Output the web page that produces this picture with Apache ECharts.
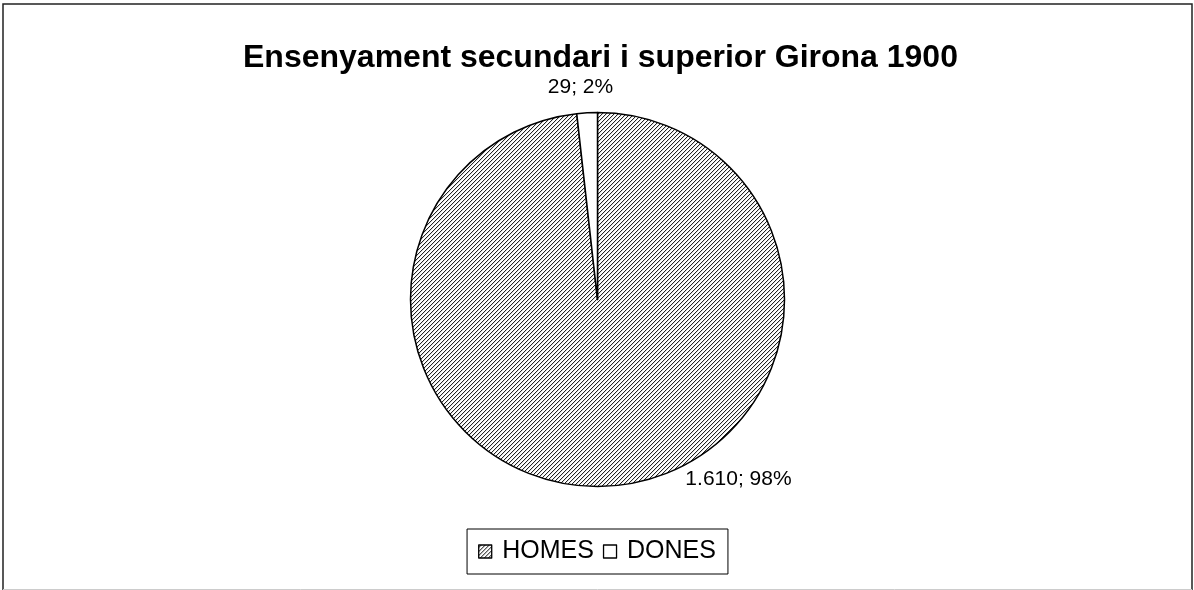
<!DOCTYPE html>
<html>
<head>
<meta charset="utf-8">
<title>Ensenyament secundari i superior Girona 1900</title>
<script src="https://cdn.jsdelivr.net/npm/echarts@6/dist/echarts.min.js"></script>
<style>
  html, body { margin: 0; padding: 0; background: #fff; }
  #chart { width: 1194px; height: 590px; }
</style>
</head>
<body>
<div id="chart"></div>
<script>
// dades
const categories = ["HOMES", "DONES"];
const values = [1610, 29];
const titleText = "Ensenyament secundari i superior Girona 1900";

// trama de ratlles diagonals per a HOMES
const makeHatch = () => {
  const c = document.createElement("canvas");
  c.width = 4;
  c.height = 4;
  const ctx = c.getContext("2d");
  ctx.fillStyle = "#fff";
  ctx.fillRect(0, 0, 4, 4);
  ctx.fillStyle = "#222";
  for (let i = 0; i < 4; i++) {
    ctx.fillRect(3 - i, i, 1, 1);
  }
  ctx.fillStyle = "#ddd";
  for (let i = 0; i < 4; i++) {
    ctx.fillRect((4 - i) % 4, i, 1, 1);
  }
  return c;
};

const fills = [{ image: makeHatch(), repeat: "repeat" }, "#fff"];

// format català: 1.610
const fmtNum = (n) => String(n).replace(/\B(?=(\d{3})+(?!\d))/g, ".");

const pieCx = 597.5;
const pieCy = 299.5;
const pieR = 187;
// posició de les etiquetes respecte del centre del pastís
const labelOffsets = [[141, 180], [-17, -212]];

const chart = echarts.init(document.getElementById("chart"));

const option = {
  animation: false,
  textStyle: { fontFamily: "Liberation Sans, Arial, sans-serif", color: "#000" },
  title: {
    text: titleText,
    left: 243,
    top: 42,
    padding: 0,
    textStyle: {
      fontSize: 32,
      fontWeight: "bold",
      color: "#000",
      fontFamily: "Liberation Sans, Arial, sans-serif",
    },
  },
  legend: {
    data: categories,
    bottom: 16,
    left: "center",
    orient: "horizontal",
    icon: "path://M0,0L10,0L10,10L0,10Z",
    itemWidth: 24,
    itemHeight: 13,
    itemGap: 9,
    padding: [10, 12, 10, 11],
    borderColor: "#000",
    borderWidth: 1,
    textStyle: { fontSize: 25, color: "#000", fontFamily: "Liberation Sans, Arial, sans-serif" },
    itemStyle: { borderColor: "#000", borderWidth: 1.3 },
  },
  graphic: [
    {
      type: "polyline",
      shape: { points: [[3, 590], [3, 4], [1192, 4], [1192, 590]] },
      style: { fill: "none", stroke: "#222", lineWidth: 1.5 },
      silent: true,
    },
    {
      type: "line",
      shape: { x1: 3, y1: 589.5, x2: 1192, y2: 589.5 },
      style: { stroke: "#ccc", lineWidth: 1 },
      silent: true,
    },
  ],
  series: [
    {
      type: "pie",
      center: [pieCx, pieCy],
      radius: pieR,
      startAngle: 90,
      clockwise: true,
      silent: true,
      itemStyle: { borderColor: "#000", borderWidth: 1.5 },
      label: {
        show: true,
        position: "outside",
        fontSize: 21,
        color: "#000",
        fontFamily: "Liberation Sans, Arial, sans-serif",
        formatter: (p) => fmtNum(p.value) + "; " + Math.round(p.percent) + "%",
      },
      labelLine: { show: false },
      labelLayout: (p) => ({
        x: pieCx + labelOffsets[p.dataIndex][0],
        y: pieCy + labelOffsets[p.dataIndex][1],
        align: "center",
        verticalAlign: "middle",
      }),
      data: categories.map((name, i) => ({
        name: name,
        value: values[i],
        itemStyle: { color: fills[i] },
      })),
    },
  ],
};

chart.setOption(option);

window.addEventListener("resize", function () {
  chart.resize();
});
</script>
</body>
</html>
